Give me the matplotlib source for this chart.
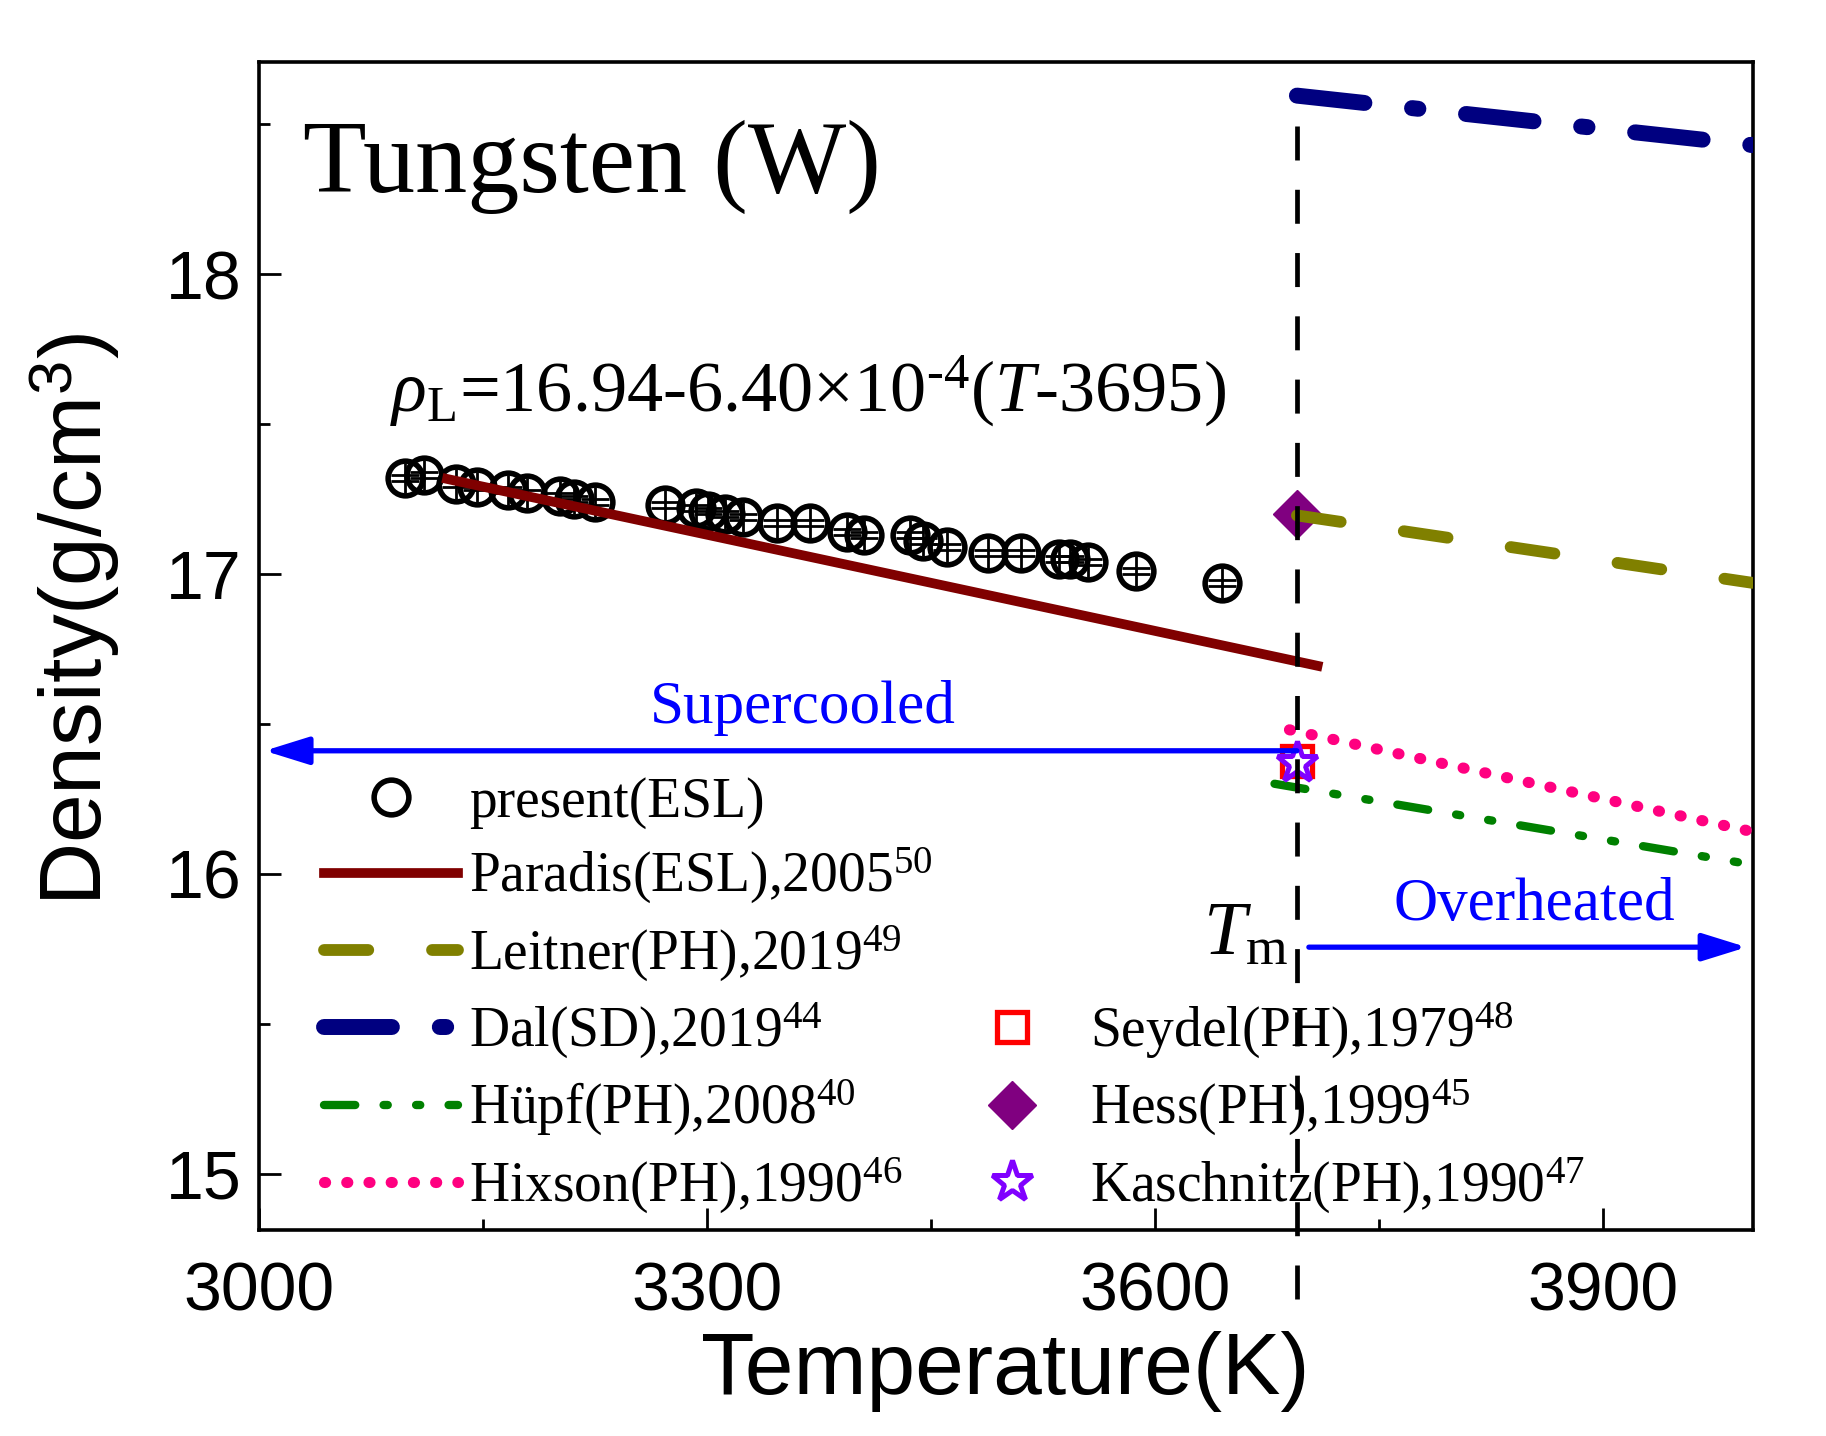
import matplotlib
matplotlib.use("Agg")
import matplotlib.pyplot as plt
from matplotlib.lines import Line2D

# ---- data ----
present_T = [3098, 3111, 3132, 3146, 3167, 3180, 3202, 3211, 3225, 3272, 3293, 3301, 3312, 3324,
             3347, 3369, 3394, 3405, 3436, 3445, 3461, 3488, 3510, 3536, 3543, 3555, 3587, 3645]
present_rho = [17.32, 17.33, 17.30, 17.29, 17.28, 17.27, 17.26, 17.25, 17.24, 17.23, 17.22, 17.21,
               17.20, 17.19, 17.17, 17.17, 17.14, 17.13, 17.13, 17.11, 17.09, 17.07, 17.07, 17.05,
               17.05, 17.04, 17.01, 16.97]

paradis_T, paradis_rho = [3123, 3712], [17.32, 16.69]
leitner_T, leitner_rho = [3695, 4000], [17.195, 16.97]
dal_T, dal_rho = [3695, 4000], [18.595, 18.43]
hupf_T, hupf_rho = [3680, 4000], [16.30, 16.03]
hixson_T, hixson_rho = [3690, 4000], [16.48, 16.14]
seydel_T, seydel_rho = [3695], [16.375]
hess_T, hess_rho = [3695], [17.20]
kasch_T, kasch_rho = [3695], [16.37]

T_melt = 3695
x_ticks = [3000, 3300, 3600, 3900]
y_ticks = [15, 16, 17, 18]

plt.rcParams["font.family"] = ["Liberation Sans", "DejaVu Sans"]
plt.rcParams["mathtext.fontset"] = "custom"
plt.rcParams["mathtext.rm"] = "Liberation Serif"
plt.rcParams["mathtext.it"] = "Liberation Serif:italic"
plt.rcParams["mathtext.bf"] = "Liberation Serif:bold"
plt.rcParams["mathtext.sf"] = "Liberation Sans"
SERIF = ["Liberation Serif", "DejaVu Serif"]

fig = plt.figure(figsize=(18.26, 14.36), dpi=100)
ax = fig.add_axes([0.1416, 0.1435, 0.8182, 0.8133])

# styles
c_par, c_lei, c_dal = "#800000", "#808000", "#000080"
c_hup, c_hix = "#008000", "#FF0080"
ls_dal = (0, (4.25, 3.0, 0.4, 3.0))
ls_lei = (0, (3.75, 5.4))
ls_hup = (0, (3.75, 3.4, 0.5, 3.4, 0.5, 3.4))
ls_hix = (0, (0.1, 1.9))
circ = dict(marker="o", ms=25, mfc="none", mec="k", mew=4)
sq = dict(marker="s", ms=22, mfc="none", mec="red", mew=3.8)
dia = dict(marker="D", ms=24, color="#800080")
star = dict(marker="*", ms=31, mfc="white", mec="#8000FF", mew=3.6)

# present data with small error crosses
ax.errorbar(present_T, present_rho, yerr=0.05, fmt="none", ecolor="k", elinewidth=2, zorder=3)
ax.errorbar(present_T, present_rho, yerr=0.011, fmt="none", ecolor="k", elinewidth=0,
            capsize=10, capthick=2, zorder=3)
ax.plot(present_T, present_rho, ls="none", zorder=4, **circ)

ax.plot(paradis_T, paradis_rho, color=c_par, lw=7, solid_capstyle="butt", zorder=5)
ax.plot(hess_T, hess_rho, ls="none", zorder=4, **dia)
ax.plot(leitner_T, leitner_rho, color=c_lei, lw=8.5, ls=ls_lei, dash_capstyle="round", zorder=5)
ax.plot(dal_T, dal_rho, color=c_dal, lw=11.5, ls=ls_dal, dash_capstyle="round", zorder=5)
ax.plot(hupf_T, hupf_rho, color=c_hup, lw=6, ls=ls_hup, dash_capstyle="round", zorder=5)
ax.plot(hixson_T, hixson_rho, color=c_hix, lw=8, ls=ls_hix, dash_capstyle="round", zorder=5)
ax.plot(seydel_T, seydel_rho, ls="none", zorder=6, **sq)
ax.plot(kasch_T, kasch_rho, ls="none", zorder=6, **star)

# melting line, runs below the axis
ax.plot([T_melt, T_melt], [14.58, 18.57], color="k", lw=3.4, ls=(0, (7.2, 6.2)), clip_on=False, zorder=8)

# arrows
arrow_kw = dict(arrowstyle="-|>,head_length=1.35,head_width=0.42", color="blue", lw=3.8,
                mutation_scale=20, shrinkA=0, shrinkB=0)
ax.annotate("", xy=(3004, 16.41), xytext=(T_melt, 16.41), arrowprops=arrow_kw, zorder=7)
ax.annotate("", xy=(3996, 15.755), xytext=(3703, 15.755), arrowprops=arrow_kw, zorder=7)

ax.text(3364, 16.502, "Supercooled", color="blue", fontsize=44, family=SERIF, ha="center", va="baseline")
ax.text(3854, 15.847, "Overheated", color="blue", fontsize=44, family=SERIF, ha="center", va="baseline")
ax.text(3689, 15.73, r"$T_{\mathrm{m}}$", fontsize=55, ha="right", va="baseline")
ax.text(3030, 18.273, "Tungsten (W)", fontsize=75, family=SERIF, ha="left", va="baseline")
ax.text(3088, 17.545, r"$\rho_{\mathrm{L}}$=16.94-6.40×10$^{\text{-4}}$($T$-3695)",
        fontsize=52, family=SERIF, ha="left", va="baseline")

# axes
ax.set_xlim(3000, 4000)
ax.set_ylim(14.812, 18.707)
ax.set_xticks(x_ticks)
ax.set_yticks(y_ticks)
ax.set_xticks([3150, 3450, 3750], minor=True)
ax.set_yticks([15.5, 16.5, 17.5, 18.5], minor=True)
ax.tick_params(which="both", direction="in", top=False, right=False, labelsize=49, width=2)
ax.tick_params(which="major", length=16)
ax.tick_params(which="minor", length=8)
ax.tick_params(axis="x", pad=22)
ax.tick_params(axis="y", pad=12)
for sp in ax.spines.values():
    sp.set_linewidth(2.6)

ax.text(0.5, -0.121, "Temperature(K)", transform=ax.transAxes, fontsize=63, ha="center", va="center")
ax.text(-0.1228, 0.523, r"Density(g/cm$^{\mathsf{3}}$)", transform=ax.transAxes, fontsize=63,
        rotation=90, ha="center", va="center")

# legends
h1 = [
    Line2D([], [], ls="none", **circ),
    Line2D([], [], color=c_par, lw=7),
    Line2D([], [], color=c_lei, lw=8.5, ls=ls_lei, dash_capstyle="round"),
    Line2D([], [], color=c_dal, lw=11.5, ls=ls_dal, dash_capstyle="round"),
    Line2D([], [], color=c_hup, lw=6, ls=ls_hup, dash_capstyle="round"),
    Line2D([], [], color=c_hix, lw=8, ls=ls_hix, dash_capstyle="round"),
]
l1 = ["present(ESL)", "Paradis(ESL),2005$^{50}$", "Leitner(PH),2019$^{49}$",
      "Dal(SD),2019$^{44}$", "Hüpf(PH),2008$^{40}$", "Hixson(PH),1990$^{46}$"]
h2 = [
    Line2D([], [], ls="none", **sq),
    Line2D([], [], ls="none", **dia),
    Line2D([], [], ls="none", **star),
]
l2 = ["Seydel(PH),1979$^{48}$", "Hess(PH),1999$^{45}$", "Kaschnitz(PH),1990$^{47}$"]

leg_kw = dict(frameon=False, loc="lower left", prop={"family": SERIF, "size": 40},
              handlelength=2.4, handletextpad=0.2, labelspacing=0.31, borderpad=0, borderaxespad=0)
leg1 = ax.legend(h1, l1, bbox_to_anchor=(0.044, 0.012), **leg_kw)
ax.add_artist(leg1)
ax.legend(h2, l2, bbox_to_anchor=(0.460, 0.012), **leg_kw)

fig.savefig("out.png", dpi=100)
